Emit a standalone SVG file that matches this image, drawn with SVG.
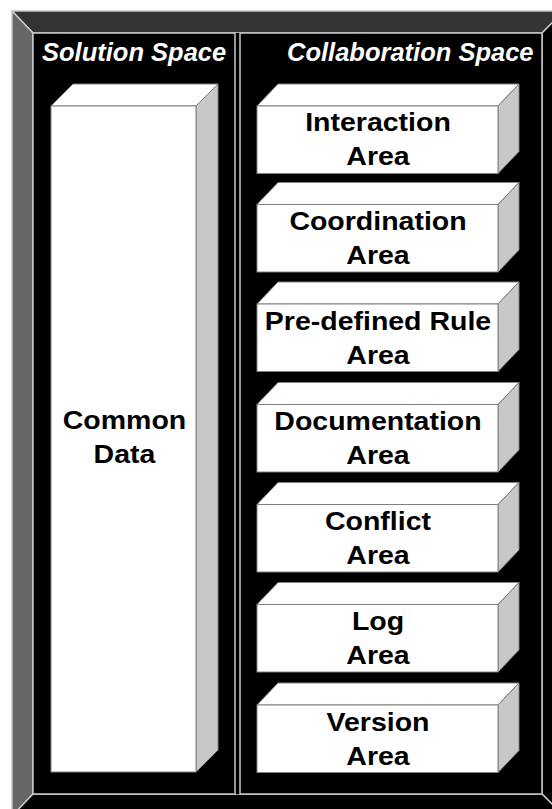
<svg xmlns="http://www.w3.org/2000/svg" width="552" height="809" viewBox="0 0 552 809">
<style>
.edge{stroke:#c8c8c8;stroke-width:1.5;stroke-linejoin:miter}
.panel{fill:#000;stroke:#c8c8c8;stroke-width:1.5}
.title{font-family:"Liberation Sans",Arial,sans-serif;font-weight:bold;font-style:italic;font-size:25.5px;fill:#fff}
.front{fill:#fff;stroke:#808080;stroke-width:1}
.top{fill:#fff;stroke:#808080;stroke-width:1}
.side{fill:#c8c8c8;stroke:#808080;stroke-width:1}
.lbl{font-family:"Liberation Sans",Arial,sans-serif;font-weight:bold;font-size:25px;fill:#000;text-anchor:middle}
</style>
<rect width="552" height="809" fill="#fff"/>
<g id="frame">
<polygon class="edge" points="12,11 564,11 542,33 33,33" fill="#333"/>
<polygon class="edge" points="12,11 33,33 33,794 12,816" fill="#666"/>
<polygon class="edge" points="564,11 564,816 542,794 542,33" fill="#000"/>
<polygon class="edge" points="12,816 33,794 542,794 564,816" fill="#000"/>
<rect x="33" y="33" width="509" height="761" fill="#000"/>
</g>
<g id="solution-space">
<rect class="panel" x="33" y="33" width="202" height="761"/>
<text class="title" x="42" y="61">Solution Space</text>
</g>
<g id="collaboration-space">
<rect class="panel" x="240" y="33" width="302" height="761"/>
<text class="title" x="287" y="61">Collaboration Space</text>
</g>
<g id="common-data">
<polygon class="top" points="51,106 73,84 218,84 196,106"/>
<polygon class="side" points="196,106 218,84 218,750 196,772"/>
<rect class="front" x="51" y="106" width="145" height="666"/>
<g transform="matrix(1.14 0 0 1 124.5 0)">
<text class="lbl" x="0" y="429">Common</text>
<text class="lbl" x="0" y="463">Data</text>
</g>
</g>
<defs>
<g id="box">
<polygon class="top" points="257,0 278,-22 519,-22 498,0"/>
<polygon class="side" points="498,0 519,-22 519,45.5 498,67.5"/>
<rect class="front" x="257" y="0" width="241" height="67.5"/>
</g>
</defs>
<g id="interaction-area">
<use href="#box" y="106"/>
<g transform="matrix(1.14 0 0 1 378 0)">
<text class="lbl" x="0" y="131">Interaction</text>
<text class="lbl" x="0" y="165">Area</text>
</g>
</g>
<g id="coordination-area">
<use href="#box" y="204.5"/>
<g transform="matrix(1.14 0 0 1 378 0)">
<text class="lbl" x="0" y="230.5">Coordination</text>
<text class="lbl" x="0" y="264.5">Area</text>
</g>
</g>
<g id="predefined-rule-area">
<use href="#box" y="304"/>
<g transform="matrix(1.14 0 0 1 378 0)">
<text class="lbl" x="0" y="330">Pre-defined Rule</text>
<text class="lbl" x="0" y="364">Area</text>
</g>
</g>
<g id="documentation-area">
<use href="#box" y="404.5"/>
<g transform="matrix(1.14 0 0 1 378 0)">
<text class="lbl" x="0" y="430.5">Documentation</text>
<text class="lbl" x="0" y="464.5">Area</text>
</g>
</g>
<g id="conflict-area">
<use href="#box" y="504.5"/>
<g transform="matrix(1.14 0 0 1 378 0)">
<text class="lbl" x="0" y="530.5">Conflict</text>
<text class="lbl" x="0" y="564.5">Area</text>
</g>
</g>
<g id="log-area">
<use href="#box" y="604.5"/>
<g transform="matrix(1.14 0 0 1 378 0)">
<text class="lbl" x="0" y="630.5">Log</text>
<text class="lbl" x="0" y="664.5">Area</text>
</g>
</g>
<g id="version-area">
<use href="#box" y="705"/>
<g transform="matrix(1.14 0 0 1 378 0)">
<text class="lbl" x="0" y="731">Version</text>
<text class="lbl" x="0" y="765">Area</text>
</g>
</g>
<g id="connectors"/>
</svg>
